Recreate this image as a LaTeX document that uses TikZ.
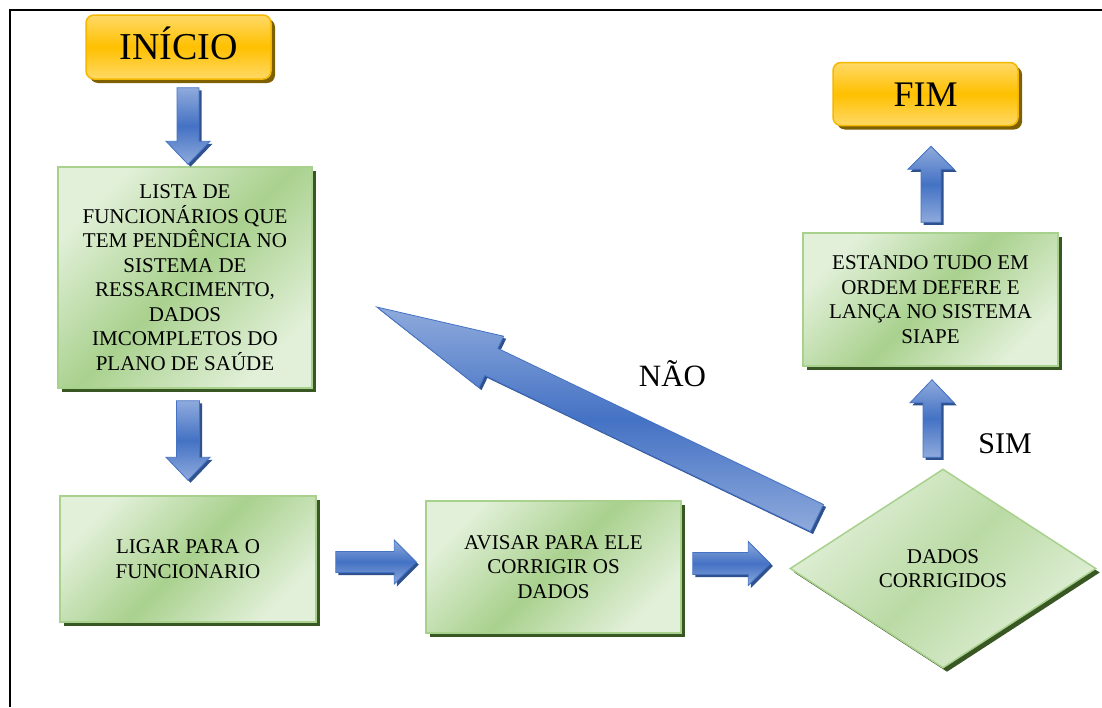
\documentclass[tikz,border=0pt]{standalone}
\usepackage{fontspec}
\setmainfont{Liberation Serif}
\usetikzlibrary{calc,shapes.geometric,shadows}
\definecolor{glight}{HTML}{E2F0D9}
\definecolor{gdark}{HTML}{A9D18E}
\definecolor{gborder}{HTML}{A9D18E}
\definecolor{gshadow}{HTML}{385723}
\definecolor{ylight}{HTML}{FFD966}
\definecolor{ymid}{HTML}{FFC000}
\definecolor{yborder}{HTML}{F5B800}
\definecolor{yshadow}{HTML}{7F6000}
\definecolor{blight}{HTML}{8FAADC}
\definecolor{bmid}{HTML}{4472C4}
\definecolor{bline}{HTML}{4472C4}
\definecolor{bshadow}{HTML}{2F528F}
\tikzset{
  gbox/.style={rectangle, draw=gborder, line width=1.5pt,
    top color=glight, bottom color=glight, middle color=gdark, shading angle=45,
    drop shadow={shadow xshift=4pt, shadow yshift=-4pt, fill=gshadow, opacity=1},
    align=center, font=\fontsize{21}{24.5}\selectfont, inner sep=0pt},
  dbox/.style={diamond, draw=gborder, line width=1.5pt,
    top color=glight, bottom color=glight, middle color=gdark!70!glight, shading angle=45,
    drop shadow={shadow xshift=4pt, shadow yshift=-4pt, fill=gshadow, opacity=1},
    align=center, font=\fontsize{21}{24.5}\selectfont, inner sep=0pt},
  ybox/.style={rectangle, rounded corners=8pt, draw=yborder, line width=1.5pt,
    top color=ylight, bottom color=ylight, middle color=ymid,
    drop shadow={shadow xshift=4pt, shadow yshift=-4pt, fill=yshadow, opacity=1},
    inner sep=0pt, text depth=0pt},
  lbl/.style={anchor=base, inner sep=0pt},
  ashadow/.style={fill=bshadow},
  abody/.style={draw=bline, line width=0.8pt, top color=blight, bottom color=blight, middle color=bmid},
}
% #1 start, #2 tip, #3 shaft half width, #4 head half width, #5 head length
\newcommand\blockarrow[5]{%
  \path[ashadow] let \p1=(#1), \p2=(#2),
      \n1={atan2(\y2-\y1,\x2-\x1)}, \n2={veclen(\x2-\x1,\y2-\y1)-#5pt},
      \n3={atan2(#4,#5)}, \n4={veclen(#4pt,#5pt)}, \n5={#4pt-#3pt} in
    (\p1) ++(2.5pt,-2.5pt) ++(\n1+90:#3pt) -- ++(\n1:\n2) -- ++(\n1+90:\n5)
      -- ++(\n1-\n3:\n4) -- ++(\n1+180+\n3:\n4) -- ++(\n1+90:\n5)
      -- ++(\n1+180:\n2) -- cycle;
  \path[abody] let \p1=(#1), \p2=(#2),
      \n1={atan2(\y2-\y1,\x2-\x1)}, \n2={veclen(\x2-\x1,\y2-\y1)-#5pt},
      \n3={atan2(#4,#5)}, \n4={veclen(#4pt,#5pt)}, \n5={#4pt-#3pt} in
    (\p1) ++(\n1+90:#3pt) -- ++(\n1:\n2) -- ++(\n1+90:\n5)
      -- ++(\n1-\n3:\n4) -- ++(\n1+180+\n3:\n4) -- ++(\n1+90:\n5)
      -- ++(\n1+180:\n2) -- cycle;
}
\begin{document}
\begin{tikzpicture}[x=1pt, y=-1pt]
\useasboundingbox (0,0) rectangle (1102,707);
\fill[white] (0,0) rectangle (1102,707);
\draw[line width=1.6pt] (10,707) -- (10,10) -- (1102,10);

\node[ybox, minimum width=185pt, minimum height=64pt, text height=25pt,
      font=\fontsize{38}{40}\selectfont] (inicio) at (178.5,47) {INÍCIO};
\node[ybox, minimum width=185pt, minimum height=63pt, text height=24pt,
      font=\fontsize{36}{40}\selectfont] (fim) at (925.5,94) {FIM};

\node[gbox, minimum width=254pt, minimum height=221pt] (lista) at (185,277.5)
  {LISTA DE\\FUNCIONÁRIOS QUE\\TEM PENDÊNCIA NO\\SISTEMA DE\\RESSARCIMENTO,\\DADOS\\IMCOMPLETOS DO\\PLANO DE SAÚDE};
\node[gbox, minimum width=256pt, minimum height=126pt] (ligar) at (188,559)
  {LIGAR PARA O\\FUNCIONARIO};
\node[gbox, minimum width=255pt, minimum height=132pt] (avisar) at (553.5,567)
  {AVISAR PARA ELE\\CORRIGIR OS\\DADOS};
\node[dbox, minimum width=306pt, minimum height=199pt] (dados) at (943,568.5)
  {DADOS\\CORRIGIDOS};
\node[gbox, minimum width=255pt, minimum height=133pt] (estando) at (930.5,299.5)
  {ESTANDO TUDO EM\\ORDEM DEFERE E\\LANÇA NO SISTEMA\\SIAPE};

\node[lbl, font=\fontsize{31}{34}\selectfont] (nao) at (672.5,386) {NÃO};
\node[lbl, font=\fontsize{30}{34}\selectfont] (sim) at (1005,453) {SIM};

\blockarrow{$(inicio.south)+(9.5,8)$}{$(lista.north)+(3,-2)$}{11}{22}{23}
\blockarrow{$(lista.south)+(3,12)$}{$(ligar.north)+(0,-15)$}{11.5}{22}{23}
\blockarrow{$(ligar.east)+(19,3)$}{$(avisar.west)+(-9,-5)$}{10.5}{22}{22}
\blockarrow{$(avisar.east)+(11,-3.5)$}{$(dados.west)+(-19,-5)$}{11}{22}{22}
\blockarrow{$(dados.north)+(-11,-11)$}{$(estando.south)+(1.5,13)$}{9}{22}{23}
\blockarrow{$(estando.north)+(0.5,-10)$}{$(fim.south)+(5.5,20)$}{10}{23}{23}
\blockarrow{$(dados.center)+(-126,-50.5)$}{$(lista.east)+(64,29.5)$}{15}{28.5}{127}
\end{tikzpicture}
\end{document}
